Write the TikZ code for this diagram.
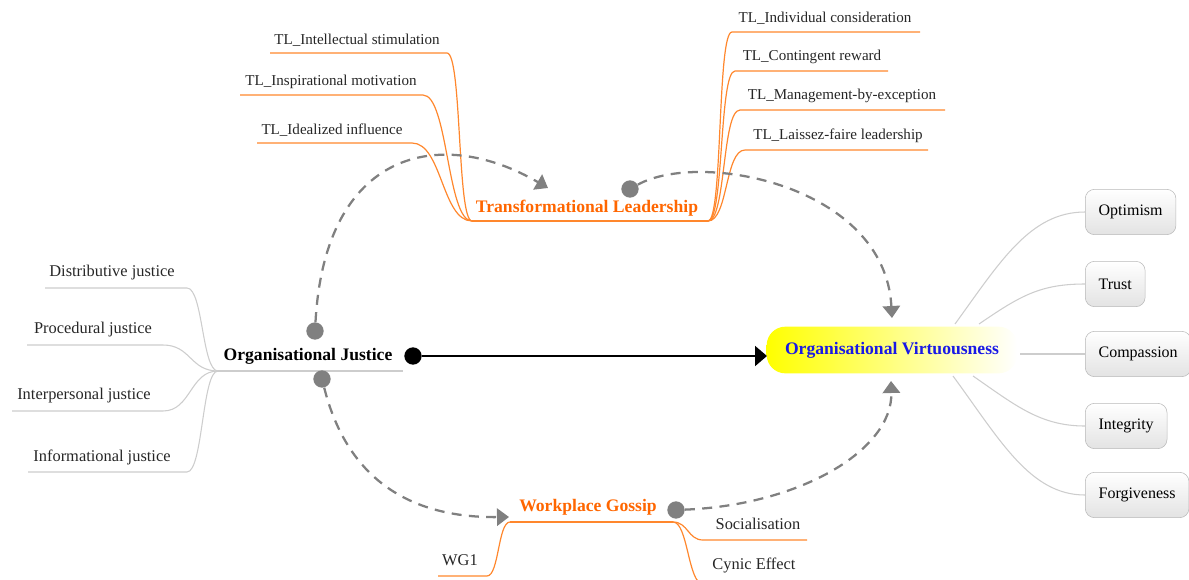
\documentclass[tikz,border=0pt]{standalone}
\usepackage{fontspec}
\setmainfont{Liberation Serif}
\usetikzlibrary{arrows.meta}
\definecolor{tlorange}{RGB}{255,102,0}
\definecolor{brorange}{RGB}{255,135,45}
\definecolor{brgray}{RGB}{205,205,205}
\definecolor{dashgray}{RGB}{128,128,128}
\definecolor{ovblue}{RGB}{25,25,230}
\tikzset{
	leaf/.style={text=black!85,font=\fontsize{11.3}{13}\selectfont,inner sep=0pt},
	bigleaf/.style={leaf,font=\fontsize{12.3}{14}\selectfont},
	hub/.style={font=\bfseries\fontsize{13.2}{15}\selectfont,inner sep=0pt},
	orline/.style={draw=brorange,line width=0.9pt},
	grline/.style={draw=brgray,line width=0.8pt},
	gdot/.style={circle,fill=dashgray,inner sep=0pt,minimum size=13pt},
	bdot/.style={circle,fill=black,inner sep=0pt,minimum size=13pt},
	dasharrow/.style={draw=dashgray,line width=1.7pt,dash pattern=on 7.5pt off 5.5pt,-{Triangle[length=9pt,width=13pt]}},
	vbox/.style={draw=gray!55,rounded corners=7pt,top color=white,bottom color=gray!22,minimum height=34pt,inner xsep=10pt,font=\fontsize{12}{14}\selectfont,anchor=west},
	ovnode/.style={rounded corners=14pt,left color=yellow,middle color=yellow!60,right color=white,minimum width=188pt,minimum height=35pt,text=ovblue,font=\bfseries\fontsize{13.2}{15}\selectfont}
}
\begin{document}
\begin{tikzpicture}[x=0.75pt,y=-0.75pt]
	\useasboundingbox (0,0) rectangle (1189,579);
	\node[hub,text=tlorange] (tl) at (587,208) {Transformational Leadership};
	\coordinate (tl-w) at (472,221);
	\coordinate (tl-e) at (708,221);
	\draw[orline] (tl-w) -- (tl-e);
	\foreach \nm/\txt/\x/\y/\a/\b/\d in {is/TL\_Intellectual stimulation/357/53/270/447/15, im/TL\_Inspirational motivation/331/95/240/423/25, ii/TL\_Idealized influence/332/143/257/412/30}
	{
		\node[leaf] (\nm) at (\x,\y-13) {\txt};
		\coordinate (\nm-a) at (\a,\y);
		\coordinate (\nm-b) at (\b,\y);
		\draw[orline] (\nm-a) -- (\nm-b) .. controls +(\d,0) and +(-\d,0) .. (tl-w);
	}
	\foreach \nm/\txt/\x/\y/\a/\b/\d in {ic/TL\_Individual consideration/825/32/732/920/15, cr/TL\_Contingent reward/812/71/735/888/16, mbe/TL\_Management-by-exception/842/110/740/945/18, lf/TL\_Laissez-faire leadership/838/150/745/928/20}
	{
		\node[leaf] (\nm) at (\x,\y-14) {\txt};
		\coordinate (\nm-a) at (\a,\y);
		\coordinate (\nm-b) at (\b,\y);
		\draw[orline] (tl-e) .. controls +(\d,0) and +(-\d,0) .. (\nm-a) -- (\nm-b);
	}
	\node[hub] (oj) at (308,356) {Organisational Justice};
	\coordinate (oj-w) at (218,371);
	\coordinate (oj-e) at (403,371);
	\draw[grline] (oj-w) -- (oj-e);
	\foreach \nm/\txt/\x/\y/\a/\b/\d in {dj/Distributive justice/112/288/45/187/16, pj/Procedural justice/93/345/27/163/28, ipj/Interpersonal justice/84/411/12/163/28, ifj/Informational justice/102/472/28/187/16}
	{
		\node[bigleaf] (\nm) at (\x,\y-15) {\txt};
		\coordinate (\nm-a) at (\a,\y);
		\coordinate (\nm-b) at (\b,\y);
		\draw[grline] (\nm-a) -- (\nm-b) .. controls +(\d,0) and +(-\d,0) .. (oj-w);
	}
	\node[hub,text=tlorange] (wg) at (588,507) {Workplace Gossip};
	\coordinate (wg-w) at (510,522);
	\coordinate (wg-e) at (673,522);
	\draw[orline] (wg-w) -- (wg-e);
	\node[bigleaf] (wg1) at (460,560) {WG1};
	\coordinate (wg1-a) at (438,576);
	\coordinate (wg1-b) at (487,576);
	\draw[orline] (wg1-a) -- (wg1-b) .. controls +(12,0) and +(-12,0) .. (wg-w);
	\node[bigleaf] (soc) at (758,524) {Socialisation};
	\coordinate (soc-a) at (703,540);
	\coordinate (soc-b) at (807,540);
	\draw[orline] (wg-e) .. controls +(15,0) and +(-15,0) .. (soc-a) -- (soc-b);
	\node[bigleaf] (cyn) at (754,565) {Cynic Effect};
	\coordinate (cyn-a) at (703,584);
	\coordinate (cyn-b) at (810,584);
	\draw[orline] (wg-e) .. controls +(15,0) and +(-15,0) .. (cyn-a) -- (cyn-b);
	\node[ovnode] (ov) at (892,350) {Organisational Virtuousness};
	\foreach \nm/\txt/\y in {opt/Optimism/212, tru/Trust/284, com/Compassion/354, int/Integrity/426, fgv/Forgiveness/495}
		\node[vbox] (\nm) at (1085,\y) {\txt};
	\coordinate (ov-1) at (955,324);
	\coordinate (ov-2) at (979,324);
	\coordinate (ov-3) at (1020,354);
	\coordinate (ov-4) at (973,376);
	\coordinate (ov-5) at (953,376);
	\draw[grline] (ov-1) .. controls (1000,262) and (1030,212) .. (opt.west);
	\draw[grline] (ov-2) .. controls (1020,296) and (1040,284) .. (tru.west);
	\draw[grline] (ov-3) -- (com.west);
	\draw[grline] (ov-4) .. controls (1015,405) and (1040,426) .. (int.west);
	\draw[grline] (ov-5) .. controls (1000,440) and (1030,495) .. (fgv.west);
	\node[bdot] (oj-dot) at (413,356) {};
	\coordinate (ov-in) at (767,356);
	\draw[line width=1.5pt,-{Triangle[length=9pt,width=15pt]}] (oj-dot) -- (ov-in);
	\node[gdot] (oj-up) at (315,331) {};
	\node[gdot] (oj-dn) at (322,379) {};
	\node[gdot] (tl-dot) at (630,189) {};
	\node[gdot] (wg-dot) at (676,510) {};
	\coordinate (tl-in) at (548,188);
	\coordinate (ov-top) at (892,318);
	\coordinate (wg-in) at (509,517);
	\coordinate (ov-bot) at (891,381);
	\draw[dasharrow] (oj-up) .. controls (325,150) and (440,125) .. (tl-in);
	\draw[dasharrow] (tl-dot) .. controls (700,150) and (885,185) .. (ov-top);
	\draw[dasharrow] (oj-dn) .. controls (345,470) and (400,518) .. (wg-in);
	\draw[dasharrow] (wg-dot) .. controls (800,505) and (893,450) .. (ov-bot);
\end{tikzpicture}
\end{document}
